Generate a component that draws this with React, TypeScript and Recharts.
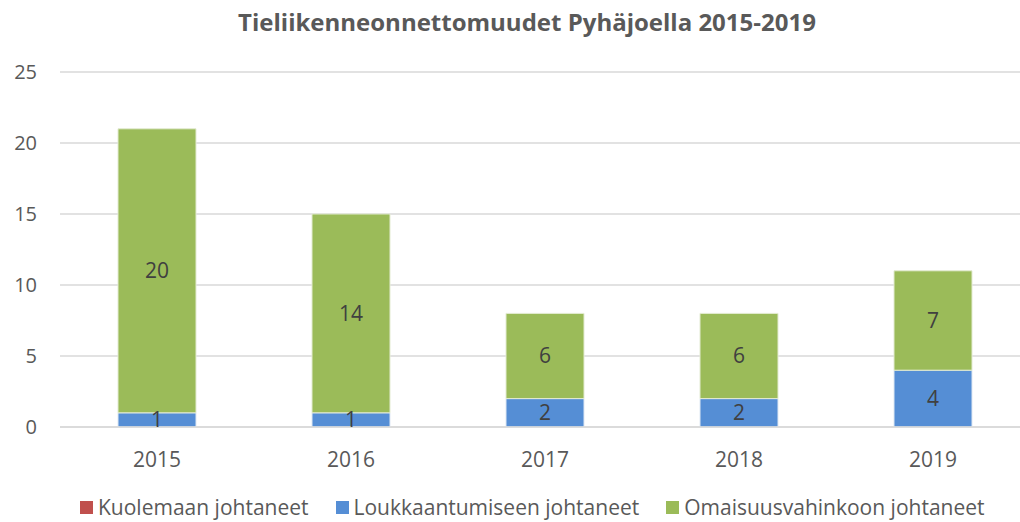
import React from 'react';
import { BarChart, Bar, XAxis, YAxis, CartesianGrid, LabelList } from 'recharts';

const years = ['2015', '2016', '2017', '2018', '2019'];
const kuolemaan = [0, 0, 0, 0, 0];
const loukkaantumiseen = [1, 1, 2, 2, 4];
const omaisuusvahinkoon = [20, 14, 6, 6, 7];
const yTicks = [0, 5, 10, 15, 20, 25];

const seriesNames = ['Kuolemaan johtaneet', 'Loukkaantumiseen johtaneet', 'Omaisuusvahinkoon johtaneet'];
const seriesColors = ['#C0504D', '#558ED5', '#9BBB59'];

const data = years.map((year, i) => ({
  year,
  kuolemaan: kuolemaan[i],
  loukkaantumiseen: loukkaantumiseen[i],
  omaisuusvahinkoon: omaisuusvahinkoon[i],
}));

const font = '"Open Sans", "Noto Sans", sans-serif';

export default function App() {
  return (
    <div style={{ position: 'absolute', left: 0, top: 0, width: 1020, height: 522, overflow: 'hidden', background: '#fff' }}>
      <div
        style={{
          position: 'absolute',
          top: 5,
          left: 0,
          width: 1054,
          textAlign: 'center',
          fontFamily: font,
          fontWeight: 700,
          fontSize: 24,
          color: '#595959',
        }}
      >
        Tieliikenneonnettomuudet Pyhäjoella 2015-2019
      </div>
      <BarChart
        width={1020}
        height={522}
        data={data}
        margin={{ top: 72, right: -10, left: 0, bottom: 65 }}
      >
        <CartesianGrid vertical={false} stroke="#d9d9d9" strokeWidth={1.5} />
        <XAxis
          dataKey="year"
          height={30}
          axisLine={{ stroke: '#d9d9d9', strokeWidth: 1.5 }}
          tickLine={false}
          tickMargin={19}
          tick={{ fontFamily: font, fontSize: 21, fill: '#595959' }}
        />
        <YAxis
          width={60}
          domain={[0, 25]}
          ticks={yTicks}
          axisLine={false}
          tickLine={false}
          tickMargin={17}
          tick={{ fontFamily: font, fontSize: 20, fill: '#595959' }}
        />
        <Bar dataKey="kuolemaan" name={seriesNames[0]} stackId="a" fill={seriesColors[0]} barSize={78} isAnimationActive={false} />
        <Bar
          dataKey="loukkaantumiseen"
          name={seriesNames[1]}
          stackId="a"
          fill={seriesColors[1]}
          stroke="#dfe8f3"
          strokeWidth={1}
          barSize={78}
          isAnimationActive={false}
        >
          <LabelList dataKey="loukkaantumiseen" position="center" style={{ fontFamily: font, fontSize: 21, fill: '#404040' }} />
        </Bar>
        <Bar
          dataKey="omaisuusvahinkoon"
          name={seriesNames[2]}
          stackId="a"
          fill={seriesColors[2]}
          stroke="#e3ebd2"
          strokeWidth={1}
          barSize={78}
          isAnimationActive={false}
        >
          <LabelList dataKey="omaisuusvahinkoon" position="center" style={{ fontFamily: font, fontSize: 21, fill: '#404040' }} />
        </Bar>
      </BarChart>
      <div
        style={{
          position: 'absolute',
          left: 80,
          top: 493,
          display: 'flex',
          gap: 27,
          fontFamily: font,
          fontSize: 21,
          color: '#595959',
          whiteSpace: 'nowrap',
        }}
      >
        {seriesNames.map((name, i) => (
          <div key={name} style={{ display: 'flex', alignItems: 'center' }}>
            <span style={{ display: 'inline-block', width: 13, height: 13, background: seriesColors[i], marginRight: 5 }} />
            <span>{name}</span>
          </div>
        ))}
      </div>
    </div>
  );
}
